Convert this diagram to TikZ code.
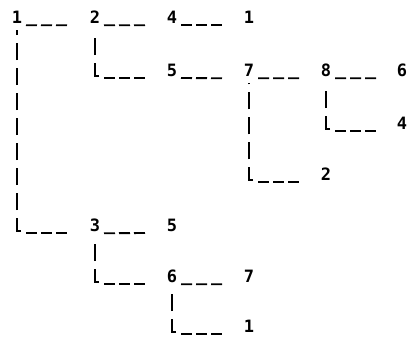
\documentclass[tikz,border=0pt]{standalone}
\usepackage{fontspec}
\newfontfamily\printfont{DejaVu Sans Mono}
\usetikzlibrary{positioning}

\begin{document}
\begin{tikzpicture}[
    x=1pt, y=-1pt,
    num/.style={inner sep=0pt, font=\printfont\bfseries\fontsize{17}{17}\selectfont},
    rule/.style={line width=1.8pt, dash pattern=on 11pt off 4pt},
    bar/.style={line width=2pt, dash pattern=on 17pt off 8pt}
  ]
    \useasboundingbox (0,0) rectangle (408,339);
    % rows of the tree
    \node[num] (r1)  at (17,17)   {1};
    \node[num] (a2)  at (95,17)   {2};
    \node[num] (a4)  at (172,17)  {4};
    \node[num] (a1)  at (249,17)  {1};
    \node[num] (b5)  at (172,70)  {5};
    \node[num] (b7)  at (249,70)  {7};
    \node[num] (b8)  at (326,70)  {8};
    \node[num] (b6)  at (402,70)  {6};
    \node[num] (c4)  at (402,123) {4};
    \node[num] (d2)  at (326,174) {2};
    \node[num] (e3)  at (95,225)  {3};
    \node[num] (e5)  at (172,225) {5};
    \node[num] (f6)  at (172,276) {6};
    \node[num] (f7)  at (249,276) {7};
    \node[num] (g1)  at (249,326) {1};
    % straight links
    \foreach \p/\c in {r1/a2, a2/a4, a4/a1, b5/b7, b7/b8, b8/b6, e3/e5, f6/f7}
      \draw[rule] ([xshift=9pt,yshift=-2pt]\p.base) -- ([xshift=-26pt,yshift=-2pt]\c.base);
    % corner links (drawn from the corner up, so the L foot is always solid)
    \foreach \p/\c in {a2/b5, b8/c4, b7/d2, r1/e3, e3/f6, f6/g1} {
      \draw[bar] (\p.south |- \c.base) ++(4pt,0) -- (\p.south |- \c.base) -- ([yshift=-7pt]\p.south);
      \draw[rule] (\p.south |- \c.base) ++(9pt,-2pt) -- ([xshift=-26pt,yshift=-2pt]\c.base);
    }
\end{tikzpicture}
\end{document}
